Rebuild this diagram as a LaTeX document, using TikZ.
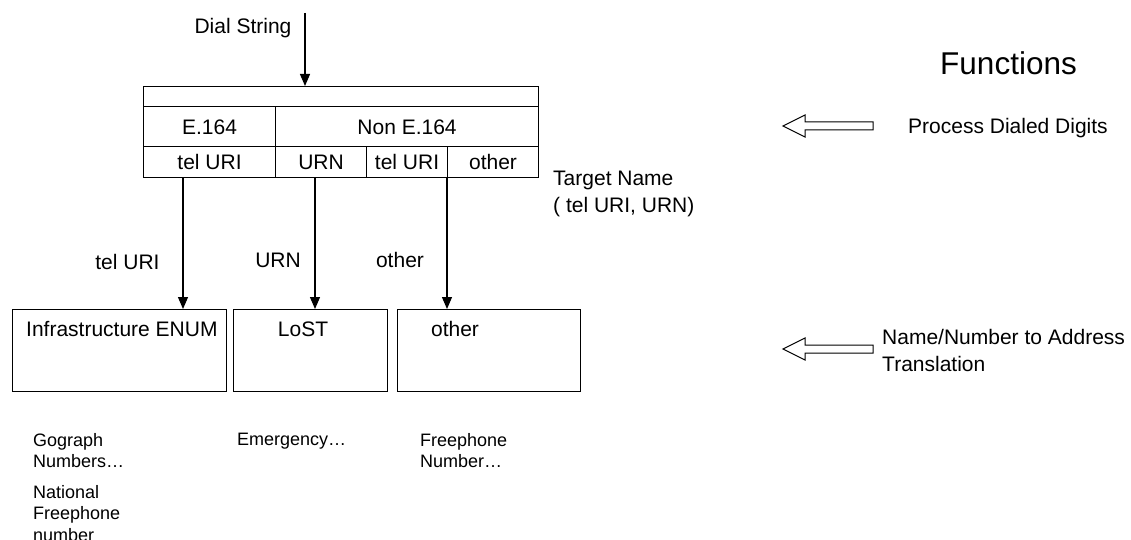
\documentclass[tikz,border=0pt]{standalone}
\usepackage{fontspec}
\setmainfont{Liberation Sans}
\usetikzlibrary{arrows.meta}
\tikzset{
  cell/.style={draw=black, line width=1.1pt, inner sep=0pt, anchor=north west},
  txt/.style={inner sep=0pt, font=\fontsize{21}{27}\selectfont, text height=15pt, text depth=0pt},
  small/.style={inner sep=0pt, font=\fontsize{18}{21.7}\selectfont, align=left, anchor=north west},
  mtxt/.style={inner sep=0pt, font=\fontsize{21}{27}\selectfont, align=left, anchor=north west},
  arr/.style={line width=1.2pt, -{Triangle[width=10pt,length=12pt]}},
  hollow/.style={draw=black, line width=1pt, fill=white}
}
\begin{document}
\begin{tikzpicture}[x=1pt,y=-1pt]
\useasboundingbox (0,0) rectangle (1131,540);

% top table
\node[cell, minimum width=395pt, minimum height=20pt] (r1) at (143,86) {};
\node[cell, txt, minimum width=132pt, minimum height=40pt] (e164) at (143,106) {E.164};
\node[cell, txt, minimum width=263pt, minimum height=40pt] (non) at (275,106) {Non E.164};
\node[cell, txt, minimum width=132pt, minimum height=31pt] (t1) at (143,146) {tel URI};
\node[cell, txt, minimum width=91pt, minimum height=31pt] (urn) at (275,146) {URN};
\node[cell, txt, minimum width=81pt, minimum height=31pt] (t2) at (366,146) {tel URI};
\node[cell, txt, minimum width=91pt, minimum height=31pt] (oth) at (447,146) {other};

% dial string
\node[txt] (dialt) at (243,26) {Dial String};
\coordinate (dial) at (305,13);
\draw[arr] (dial) -- (dial |- r1.north);

% target name
\node[mtxt] (target) at (553,170.5) {Target Name\\( tel URI, URN)};

% lower boxes
\node[cell, minimum width=214pt, minimum height=82pt] (enum) at (12,309) {};
\node[cell, minimum width=154pt, minimum height=82pt] (lost) at (233,309) {};
\node[cell, minimum width=183pt, minimum height=82pt] (obox) at (397,309) {};
\node[txt, anchor=west] (enumt) at (26,329) {Infrastructure ENUM};
\node[txt] (lostt) at (303,329) {LoST};
\node[txt] (otht) at (455,329) {other};

% connectors
\coordinate (a1) at ([xshift=40pt]t1.south west);
\coordinate (a2) at ([xshift=40pt]urn.south west);
\coordinate (a3) at (oth.south west);
\draw[arr] (a1) -- (a1 |- enum.north);
\draw[arr] (a2) -- (a2 |- lost.north);
\draw[arr] (a3) -- (a3 |- obox.north);
\node[txt] (l1) at (127.5,262) {tel URI};
\node[txt] (l2) at (278,259.5) {URN};
\node[txt] (l3) at (400,259.5) {other};

% bottom notes
\node[small] (n1) at (33,433) {Gograph\\Numbers\ldots};
\node[small] (n2) at (33,485) {National\\Freephone\\number};
\node[small] (n3) at (237,433) {Emergency\ldots};
\node[small] (n4) at (420,433) {Freephone\\Number\ldots};

% functions column
\node[txt, font=\fontsize{31.5}{36}\selectfont, text height=22.5pt] (fun) at (1008.5,63) {Functions};
\draw[hollow] (783,126) -- (805,115) -- (805,122) -- (873,122) -- (873,130) -- (805,130) -- (805,137) -- cycle;
\node[txt, anchor=west] (pdd) at (908,126) {Process Dialed Digits};
\draw[hollow] (783,349) -- (805,338) -- (805,345) -- (873,345) -- (873,353) -- (805,353) -- (805,360) -- cycle;
\node[mtxt] (nna) at (882,329.5) {Name/Number to Address\\Translation};
\end{tikzpicture}
\end{document}
